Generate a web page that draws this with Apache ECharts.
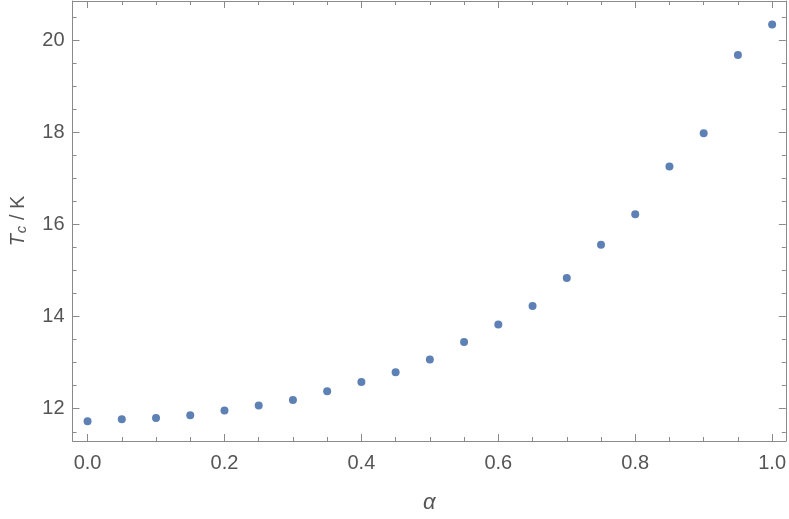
<!DOCTYPE html>
<html>
<head>
<meta charset="utf-8">
<script src="https://cdn.jsdelivr.net/npm/echarts@6/dist/echarts.min.js"></script>
<style>html,body{margin:0;padding:0;background:#fff}#c{width:789px;height:519px}</style>
</head>
<body>
<div id="c"></div>
<script>
const alpha = [0.0,0.05,0.1,0.15,0.2,0.25,0.3,0.35,0.4,0.45,0.5,0.55,0.6,0.65,0.7,0.75,0.8,0.85,0.9,0.95,1.0];
const tc = [11.73,11.77,11.80,11.86,11.96,12.07,12.19,12.38,12.58,12.79,13.07,13.45,13.83,14.23,14.84,15.56,16.22,17.26,17.98,19.68,20.34];
const xMajor = [0,0.2,0.4,0.6,0.8,1.0];
const xMinor = [0.05,0.1,0.15,0.25,0.3,0.35,0.45,0.5,0.55,0.65,0.7,0.75,0.85,0.9,0.95];
const yMajor = [12,14,16,18,20];
const yMinor = [11.5,12.5,13,13.5,14.5,15,15.5,16.5,17,17.5,18.5,19,19.5,20.5];

const FONT = 'Liberation Sans';
const LINE = '#8a8a8a';
const TXT = '#555555';
const XMIN = -0.022, XMAX = 1.02, YMIN = 11.3, YMAX = 20.85;

function xAx(pos, vals, len, labels, line, extra) {
  return Object.assign({
    type: 'value', position: pos, offset: 0, min: XMIN, max: XMAX,
    axisLine: {show: line, onZero: false, lineStyle: {color: LINE, width: 1}},
    splitLine: {show: false},
    axisTick: {show: true, inside: true, length: len, customValues: vals, lineStyle: {color: LINE, width: 1}},
    axisLabel: labels ? {show: true, customValues: vals, formatter: v => v.toFixed(1), color: TXT, fontFamily: FONT, fontSize: 20, margin: 12} : {show: false}
  }, extra || {});
}
function yAx(pos, vals, len, labels, line, extra) {
  return Object.assign({
    type: 'value', position: pos, offset: 0, min: YMIN, max: YMAX,
    axisLine: {show: line, onZero: false, lineStyle: {color: LINE, width: 1}},
    splitLine: {show: false},
    axisTick: {show: true, inside: true, length: len, customValues: vals, lineStyle: {color: LINE, width: 1}},
    axisLabel: labels ? {show: true, customValues: vals, formatter: v => String(v), color: TXT, fontFamily: FONT, fontSize: 20, margin: 8} : {show: false}
  }, extra || {});
}

const chart = echarts.init(document.getElementById('c'), null, {renderer: 'canvas'});
chart.setOption({
  animation: false,
  backgroundColor: '#ffffff',
  grid: {left: 70, right: 3, top: 1, bottom: 77, containLabel: false},
  xAxis: [
    xAx('bottom', xMajor, 7, true, true, {
      name: 'α', nameLocation: 'middle', nameGap: 51,
      nameTextStyle: {fontFamily: FONT, fontSize: 22, fontStyle: 'italic', color: TXT}
    }),
    xAx('top', xMajor, 7, false, true),
    xAx('top', xMinor, 4, false, false),
    xAx('bottom', xMinor, 4, false, false)
  ],
  yAxis: [
    yAx('left', yMajor, 7, true, true, {
      name: '{t|T}{s|c}{n| / K}', nameLocation: 'middle', nameGap: 43, nameRotate: 90,
      nameTextStyle: {
        color: TXT, fontFamily: FONT, fontSize: 20,
        rich: {
          t: {fontFamily: FONT, fontSize: 20, fontStyle: 'italic', color: TXT},
          s: {fontFamily: FONT, fontSize: 15, fontStyle: 'italic', color: TXT, padding: [8, 0, 0, 1]},
          n: {fontFamily: FONT, fontSize: 20, color: TXT}
        }
      }
    }),
    yAx('right', yMajor, 7, false, true),
    yAx('right', yMinor, 4, false, false),
    yAx('left', yMinor, 4, false, false)
  ],
  series: [{
    type: 'scatter',
    xAxisIndex: 0, yAxisIndex: 0,
    symbol: 'circle', symbolSize: 8,
    itemStyle: {color: '#5e81b5', opacity: 1},
    data: alpha.map((a, i) => [a, tc[i]])
  }]
});
</script>
</body>
</html>
